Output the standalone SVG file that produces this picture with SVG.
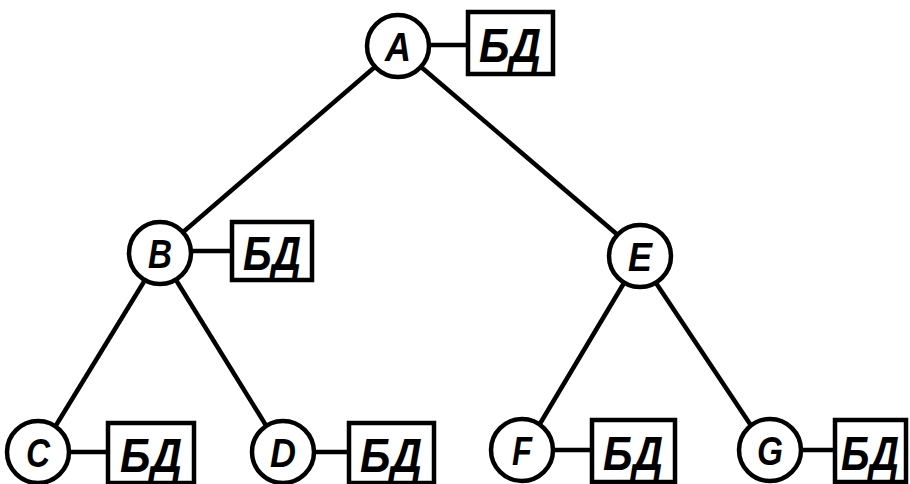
<svg xmlns="http://www.w3.org/2000/svg" width="910" height="484" viewBox="0 0 910 484">
<style>
.n{fill:#fff;stroke:#000;stroke-width:4.5}
.b{fill:#fff;stroke:#000;stroke-width:4.5}
.l{font-family:"Liberation Sans",Arial,sans-serif;font-weight:bold;font-style:italic;font-size:40px;text-anchor:middle;dominant-baseline:central}
.t{font-family:"Liberation Sans",Arial,sans-serif;font-weight:bold;font-style:italic;font-size:48px;text-anchor:middle;dominant-baseline:central}
.e{stroke:#000;stroke-width:4.5;fill:none}
</style>
<rect width="910" height="484" fill="#fff"/>
<g id="edges">
<line class="e" x1="376" y1="66" x2="182" y2="233"/>
<line class="e" x1="420" y1="66" x2="619" y2="236"/>
<line class="e" x1="145" y1="280" x2="55" y2="427"/>
<line class="e" x1="176" y1="280" x2="267" y2="427"/>
<line class="e" x1="624" y1="283" x2="538" y2="427"/>
<line class="e" x1="656" y1="283" x2="752" y2="427"/>
<line class="e" x1="428" y1="45" x2="468" y2="45"/>
<line class="e" x1="190" y1="251" x2="232" y2="251"/>
<line class="e" x1="68" y1="452" x2="108" y2="452"/>
<line class="e" x1="313" y1="452" x2="349" y2="452"/>
<line class="e" x1="552" y1="450" x2="592" y2="450"/>
<line class="e" x1="800" y1="450" x2="835" y2="450"/>
</g>
<g id="A"><circle class="n" cx="398" cy="46" r="31"/><text class="l" x="398" y="47" textLength="26" lengthAdjust="spacingAndGlyphs">A</text>
<rect class="b" x="468" y="12" width="85" height="62"/><text class="t" x="510" y="45" textLength="62" lengthAdjust="spacingAndGlyphs">БД</text></g>
<g id="B"><circle class="n" cx="160" cy="253" r="31"/><text class="l" x="160" y="254" textLength="24" lengthAdjust="spacingAndGlyphs">B</text>
<rect class="b" x="232" y="222" width="80" height="58"/><text class="t" x="272" y="253" textLength="58" lengthAdjust="spacingAndGlyphs">БД</text></g>
<g id="E"><circle class="n" cx="640" cy="256" r="31"/><text class="l" x="640" y="257" textLength="24" lengthAdjust="spacingAndGlyphs">E</text></g>
<g id="C"><circle class="n" cx="38" cy="452" r="31"/><text class="l" x="38" y="453" textLength="24" lengthAdjust="spacingAndGlyphs">C</text>
<rect class="b" x="108" y="423" width="86" height="60"/><text class="t" x="151" y="455" textLength="62" lengthAdjust="spacingAndGlyphs">БД</text></g>
<g id="D"><circle class="n" cx="283" cy="452" r="31"/><text class="l" x="283" y="453" textLength="26" lengthAdjust="spacingAndGlyphs">D</text>
<rect class="b" x="349" y="423" width="85" height="60"/><text class="t" x="391" y="455" textLength="62" lengthAdjust="spacingAndGlyphs">БД</text></g>
<g id="F"><circle class="n" cx="522" cy="450" r="31"/><text class="l" x="522" y="451" textLength="20" lengthAdjust="spacingAndGlyphs">F</text>
<rect class="b" x="592" y="420" width="83" height="62"/><text class="t" x="633" y="453" textLength="60" lengthAdjust="spacingAndGlyphs">БД</text></g>
<g id="G"><circle class="n" cx="770" cy="450" r="31"/><text class="l" x="770" y="451" textLength="26" lengthAdjust="spacingAndGlyphs">G</text>
<rect class="b" x="835" y="420" width="71" height="62"/><text class="t" x="870" y="453" textLength="58" lengthAdjust="spacingAndGlyphs">БД</text></g>
</svg>
